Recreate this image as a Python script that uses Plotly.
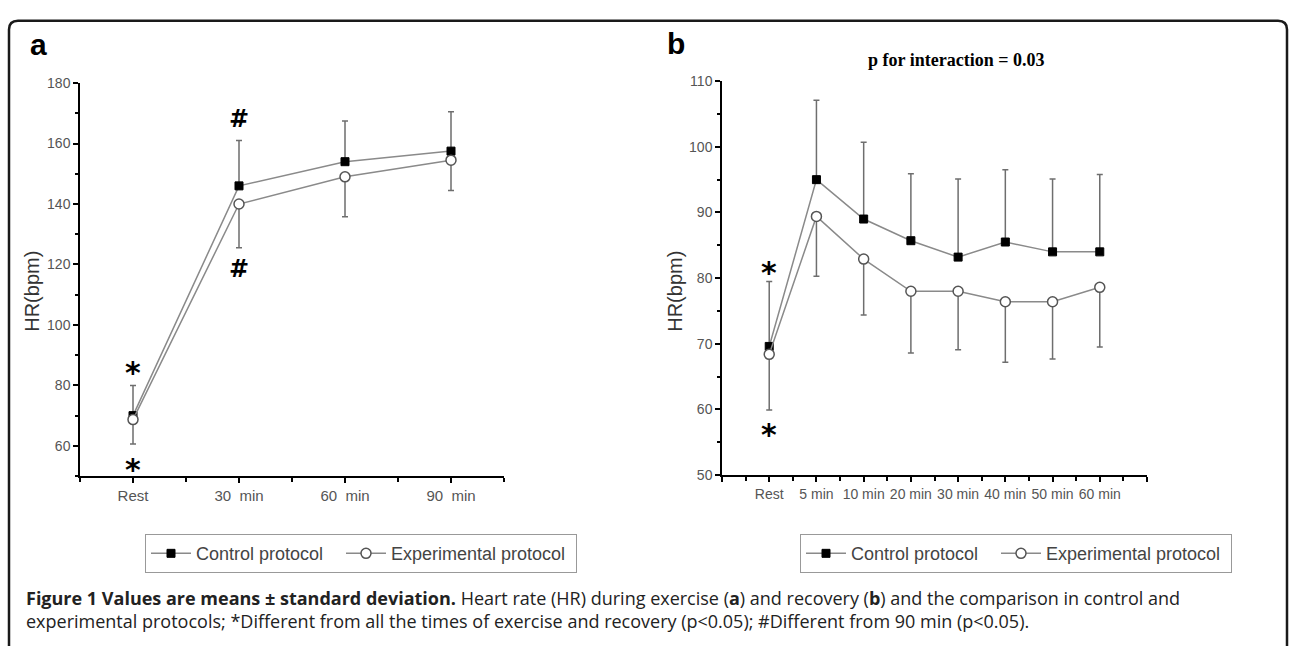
import plotly.graph_objects as go

W, H = 1290, 646

# ---------------- data ----------------
cats_a = ["Rest", "30  min", "60  min", "90  min"]
control_a = [70, 146, 154, 157.5]
control_a_sd = [10, 15, 13.5, 13]
exp_a = [68.7, 140, 149, 154.5]
exp_a_sd = [8.1, 14.5, 13.2, 10]

cats_b = ["Rest", "5 min", "10 min", "20 min", "30 min", "40 min", "50 min", "60 min"]
control_b = [69.6, 95, 89, 85.7, 83.2, 85.5, 84, 84]
control_b_sd = [9.9, 12.1, 11.7, 10.2, 11.9, 11.0, 11.1, 11.8]
exp_b = [68.4, 89.4, 82.9, 78, 78, 76.4, 76.4, 78.6]
exp_b_sd = [8.5, 9.1, 8.5, 9.4, 8.9, 9.2, 8.7, 9.1]

series_names = ["Control protocol", "Experimental protocol"]


def px(x):
    return x / W


def py(y):
    return 1 - y / H


LINE = "#8a8a8a"
ERR = "#6e6e6e"
YTICKFONT = dict(family="Liberation Sans, Arial", size=14, color="#555")

fig = go.Figure()


def add_pair(xa, ya, ctrl, csd, exp, esd, legend):
    xs = list(range(len(ctrl)))
    fig.add_trace(go.Scatter(
        x=xs, y=ctrl, xaxis=xa, yaxis=ya, mode="lines+markers",
        name=series_names[0], legend=legend, legendwidth=140,
        line=dict(color=LINE, width=1.5),
        marker=dict(symbol="square", size=8, color="black",
                    line=dict(color="black", width=1)),
        error_y=dict(type="data", symmetric=False, array=csd,
                     arrayminus=[0] * len(csd), color=ERR, thickness=1.5, width=3),
    ))
    fig.add_trace(go.Scatter(
        x=xs, y=exp, xaxis=xa, yaxis=ya, mode="lines+markers",
        name=series_names[1], legend=legend, legendwidth=180,
        line=dict(color=LINE, width=1.5),
        marker=dict(symbol="circle", size=10, color="white",
                    line=dict(color="#555", width=1.5)),
        error_y=dict(type="data", symmetric=False, array=[0] * len(esd),
                     arrayminus=esd, color=ERR, thickness=1.5, width=3),
    ))


add_pair("x", "y", control_a, control_a_sd, exp_a, exp_a_sd, "legend")
add_pair("x2", "y2", control_b, control_b_sd, exp_b, exp_b_sd, "legend2")

axis_common = dict(showline=True, linecolor="black", linewidth=1.5, ticks="outside",
                   tickcolor="black", tickwidth=1.5, ticklen=5, showgrid=False,
                   zeroline=False)

legend_common = dict(orientation="h", xanchor="left", yanchor="middle",
                     bordercolor="#999", borderwidth=1, bgcolor="white", itemwidth=40,
                     font=dict(family="Liberation Sans, Arial", size=18, color="#444"),
                     itemclick=False)

fig.update_layout(
    width=W, height=H, margin=dict(l=0, r=0, t=0, b=0),
    paper_bgcolor="white", plot_bgcolor="white",
    xaxis=dict(domain=[px(80), px(504)], range=[-0.5, 3.5], anchor="y",
               tickmode="array", tickvals=list(range(len(cats_a))), ticktext=cats_a,
               minor=dict(tickvals=[-0.5, 0.5, 1.5, 2.5, 3.5], ticks="outside",
                          ticklen=4, tickcolor="black", tickwidth=1.5),
               tickfont=dict(family="Liberation Sans, Arial", size=15, color="#555"),
               **axis_common),
    yaxis=dict(domain=[py(480), py(77)], range=[50, 180], anchor="x",
               tickmode="array", tickvals=[60, 80, 100, 120, 140, 160, 180],
               minor=dict(tickvals=[50, 70, 90, 110, 130, 150, 170], ticks="outside",
                          ticklen=3, tickcolor="black", tickwidth=1.5),
               tickfont=YTICKFONT, **axis_common),
    xaxis2=dict(domain=[px(722), px(1147)], range=[-1, 8], anchor="y2",
                tickmode="array", tickvals=list(range(-1, 9)),
                ticktext=[""] + cats_b + [""],
                minor=dict(tickvals=[i + 0.5 for i in range(-1, 8)], ticks="outside",
                           ticklen=4, tickcolor="black", tickwidth=1.5),
                tickfont=dict(family="Liberation Sans, Arial", size=14, color="#555"),
                **axis_common),
    yaxis2=dict(domain=[py(479), py(75)], range=[50, 110], anchor="x2",
                tickmode="array", tickvals=[50, 60, 70, 80, 90, 100, 110],
                minor=dict(tickvals=[55, 65, 75, 85, 95, 105], ticks="outside",
                           ticklen=3, tickcolor="black", tickwidth=1.5),
                tickfont=YTICKFONT, **axis_common),
    legend=dict(x=px(145), y=py(559.5), **legend_common),
    legend2=dict(x=px(800), y=py(559.5), **legend_common),
)

ann = []
# panel letters
ann.append(dict(text="<b>a</b>", x=px(28), y=py(37), xref="paper", yref="paper",
                xanchor="left", yanchor="middle", showarrow=False,
                font=dict(family="Liberation Sans, Arial", size=30, color="black")))
ann.append(dict(text="<b>b</b>", x=px(665), y=py(36), xref="paper", yref="paper",
                xanchor="left", yanchor="middle", showarrow=False,
                font=dict(family="Liberation Sans, Arial", size=30, color="black")))
# y titles
for xx in (32, 675):
    ann.append(dict(text="HR(bpm)", x=px(xx), y=py(291), xref="paper", yref="paper",
                    textangle=-90, showarrow=False, xanchor="center", yanchor="middle",
                    font=dict(family="Liberation Sans, Arial", size=20, color="#333")))
# p for interaction
ann.append(dict(text="<b>p for interaction = 0.03</b>", x=px(956), y=py(53),
                xref="paper", yref="paper", showarrow=False,
                xanchor="center", yanchor="middle",
                font=dict(family="Liberation Serif, Times New Roman", size=18, color="black")))
# significance markers
sig = [("x", "y", 1, 168, "#", 24), ("x", "y", 1, 118.5, "#", 24),
       ("x", "y", 0, 86.5, "*", 30), ("x", "y", 0, 54.5, "*", 30),
       ("x2", "y2", 0, 82, "*", 30), ("x2", "y2", 0, 57.3, "*", 30)]
for xr, yr, xv, yv, t, fs in sig:
    ann.append(dict(text=f"<b>{t}</b>", x=xv, y=yv, xref=xr, yref=yr, showarrow=False,
                    xanchor="center", yanchor="middle",
                    yshift=-7 if t == "*" else 0,
                    font=dict(family="DejaVu Sans", size=fs, color="black")))
# caption (two lines in one text block)
caption = ("<b>Figure 1 Values are means ± standard deviation.</b> Heart rate (HR) during "
           "exercise (<b>a</b>) and recovery (<b>b</b>) and the comparison in control and<br>"
           "experimental protocols; *Different from all the times of exercise and recovery "
           "(p&lt;0.05); #Different from 90 min (p&lt;0.05).")
ann.append(dict(text=caption, x=px(24), y=py(617), xref="paper", yref="paper",
                xanchor="left", yanchor="middle", showarrow=False, align="left",
                font=dict(family="Open Sans", size=18, color="#222")))
fig.update_layout(annotations=ann)

# rounded frame
r = 9
x0, y0, x1, y1 = 9, 13, 1287, 700
path = (f"M {px(x0)},{py(y1)} L {px(x0)},{py(y0 + r)} "
        f"Q {px(x0)},{py(y0)} {px(x0 + r)},{py(y0)} "
        f"L {px(x1 - r)},{py(y0)} Q {px(x1)},{py(y0)} {px(x1)},{py(y0 + r)} "
        f"L {px(x1)},{py(y1)}")
fig.add_shape(type="path", path=path, xref="paper", yref="paper",
              line=dict(color="#1a1a1a", width=2.5))

fig.write_html("out.html")
